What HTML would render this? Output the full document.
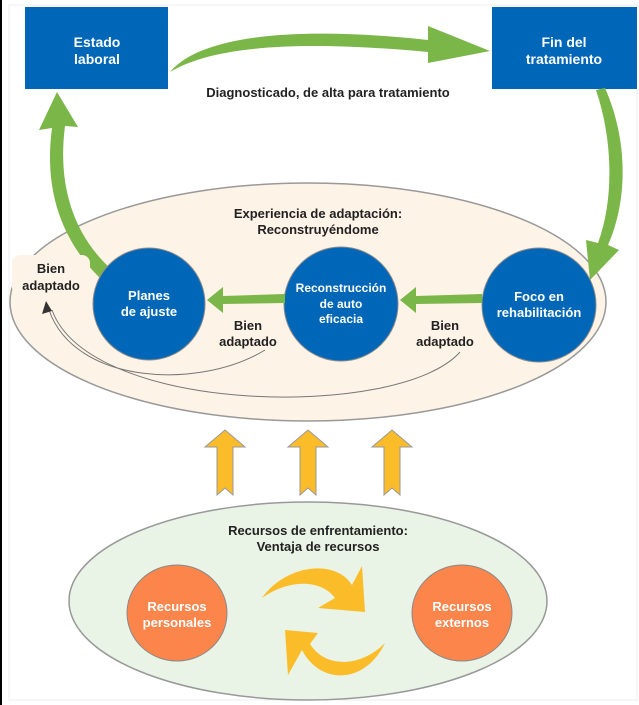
<!DOCTYPE html>
<html><head><meta charset="utf-8"><style>
body{margin:0;background:#fff}
svg{display:block}
text{font-family:"Liberation Sans",sans-serif;font-weight:bold}
</style></head><body>
<svg width="639" height="705" viewBox="0 0 639 705">
<rect x="0" y="0" width="2" height="705" fill="#000"/>
<rect x="9" y="5" width="628" height="695" fill="none" stroke="#eee"/>
<!-- big ellipse -->
<ellipse cx="308" cy="302" rx="298" ry="119" fill="#fdf3e7" stroke="#999" stroke-width="1.5"/>
<!-- bottom ellipse -->
<ellipse cx="308" cy="601" rx="239" ry="99" fill="#e9f4e6" stroke="#999" stroke-width="1.5"/>
<!-- boxes -->
<rect x="25" y="7" width="143" height="82" fill="#0066b8"/>
<rect x="492" y="7" width="145" height="82" fill="#0066b8"/>
<text x="97" y="47" fill="#fff" font-size="14" text-anchor="middle">Estado</text>
<text x="97" y="64" fill="#fff" font-size="14" text-anchor="middle">laboral</text>
<text x="564" y="47" fill="#fff" font-size="14" text-anchor="middle">Fin del</text>
<text x="564" y="64" fill="#fff" font-size="14" text-anchor="middle">tratamiento</text>
<!-- top green arrow -->
<path d="M170,72 C205,30 320,28 428,40 L428,26 L490,51 L428,63 L428,52 C320,42 220,42 170,72 Z" fill="#7ab648"/>
<text x="328" y="97" fill="#222" font-size="13" text-anchor="middle">Diagnosticado, de alta para tratamiento</text>
<!-- right green arrow -->
<path d="M605,88 C628,140 628,200 608,245 L619,250 L590,280 L586,240 L598,243 C614,200 613,140 596,90 Z" fill="#7ab648"/>
<!-- left green arrow -->
<path d="M102,280 C55,235 45,180 52,128 L39,130 L57,92 L78,127 L65,126 C58,180 70,232 112,270 Z" fill="#7ab648"/>
<text x="318" y="218" fill="#222" font-size="13" text-anchor="middle">Experiencia de adaptación:</text>
<text x="318" y="234" fill="#222" font-size="13" text-anchor="middle">Reconstruyéndome</text>
<!-- thin curves -->
<path d="M265,350 C200,390 75,385 49,310" fill="none" stroke="#777" stroke-width="1"/>
<path d="M460,352 C400,420 90,415 52,310" fill="none" stroke="#777" stroke-width="1"/>
<path d="M46,301 L42,314 L52,311 Z" fill="#333"/>
<!-- circles -->
<circle cx="149" cy="304" r="56" fill="#0066b8" stroke="#888" stroke-width="1"/>
<circle cx="341" cy="304" r="57" fill="#0066b8" stroke="#888" stroke-width="1"/>
<circle cx="539" cy="305" r="57" fill="#0066b8" stroke="#888" stroke-width="1"/>
<!-- small green arrows -->
<path d="M285,294 L223,296 L223,287 L207,300 L223,313 L223,304 L285,303 Z" fill="#7ab648"/>
<path d="M482,294 L416,296 L416,287 L400,300 L416,313 L416,304 L482,303 Z" fill="#7ab648"/>
<text x="149" y="300" fill="#fff" font-size="13" text-anchor="middle">Planes</text>
<text x="149" y="316" fill="#fff" font-size="13" text-anchor="middle">de ajuste</text>
<text x="341" y="292" fill="#fff" font-size="12" text-anchor="middle">Reconstrucción</text>
<text x="341" y="308" fill="#fff" font-size="12" text-anchor="middle">de auto</text>
<text x="341" y="323" fill="#fff" font-size="12" text-anchor="middle">eficacia</text>
<text x="539" y="301" fill="#fff" font-size="13" text-anchor="middle">Foco en</text>
<text x="539" y="317" fill="#fff" font-size="13" text-anchor="middle">rehabilitación</text>
<rect x="12" y="255" width="78" height="40" fill="#fdf3e7" rx="8"/>
<text x="51" y="273" fill="#222" font-size="13" text-anchor="middle">Bien</text>
<text x="51" y="290" fill="#222" font-size="13" text-anchor="middle">adaptado</text>
<text x="248" y="330" fill="#222" font-size="13" text-anchor="middle">Bien</text>
<text x="248" y="346" fill="#222" font-size="13" text-anchor="middle">adaptado</text>
<text x="445" y="330" fill="#222" font-size="13" text-anchor="middle">Bien</text>
<text x="445" y="346" fill="#222" font-size="13" text-anchor="middle">adaptado</text>
<!-- yellow up arrows -->
<g fill="#fbbc2a" stroke="#999" stroke-width="1">
<path d="M225,430 L245,447 L233,447 L233,495 L225,488 L217,495 L217,447 L205,447 Z"/>
<path d="M308,430 L328,447 L316,447 L316,495 L308,488 L300,495 L300,447 L288,447 Z"/>
<path d="M392,430 L412,447 L400,447 L400,495 L392,488 L384,495 L384,447 L372,447 Z"/>
</g>
<text x="318" y="535" fill="#222" font-size="13" text-anchor="middle">Recursos de enfrentamiento:</text>
<text x="318" y="551" fill="#222" font-size="13" text-anchor="middle">Ventaja de recursos</text>
<ellipse cx="177" cy="613" rx="50" ry="48" fill="#fc854c" stroke="#888"/>
<ellipse cx="462" cy="613" rx="50" ry="48" fill="#fc854c" stroke="#888"/>
<text x="177" y="611" fill="#fff" font-size="13" text-anchor="middle">Recursos</text>
<text x="177" y="627" fill="#fff" font-size="13" text-anchor="middle">personales</text>
<text x="462" y="611" fill="#fff" font-size="13" text-anchor="middle">Recursos</text>
<text x="462" y="627" fill="#fff" font-size="13" text-anchor="middle">externos</text>
<!-- yellow swirl arrows -->
<path d="M262,598 C285,565 335,558 352,585 L362,566 L365,612 L318,608 L335,598 C322,580 290,578 262,598 Z" fill="#fbbc2a"/>
<path d="M385,643 C365,685 320,685 302,650 L288,675 L285,630 L318,633 L310,644 C325,668 360,668 385,643 Z" fill="#fbbc2a"/>
</svg>
</body></html>
